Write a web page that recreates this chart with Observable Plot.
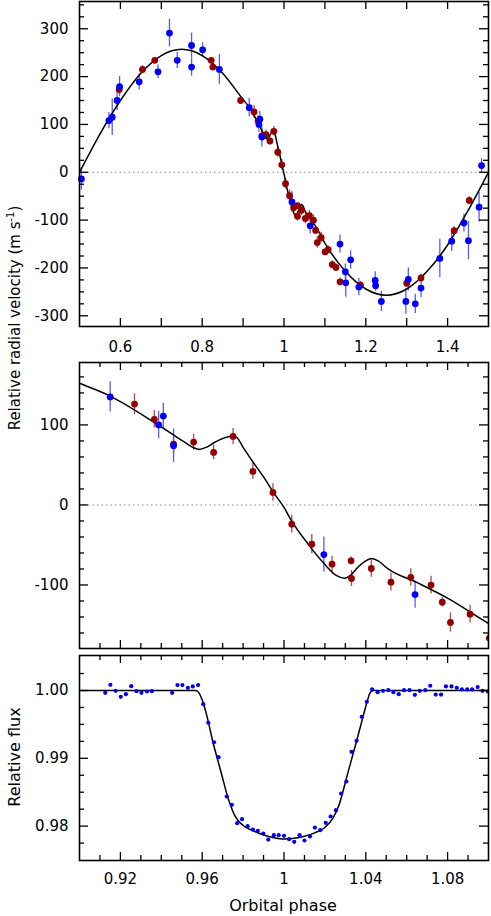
<!DOCTYPE html>
<html><head><meta charset="utf-8">
<script src="https://cdn.jsdelivr.net/npm/d3@7"></script>
<script src="https://cdn.jsdelivr.net/npm/@observablehq/plot@0.6"></script>
<style>
body{margin:0;background:#fff;}
#wrap{position:relative;width:491px;height:916px;font-family:"DejaVu Sans",sans-serif;color:#000;}
.panel{position:absolute;left:0;}
.panel svg{background:transparent !important;overflow:visible;}
.lab{position:absolute;white-space:nowrap;font-size:16px;line-height:1;}
.rot{transform:translate(-50%,-50%) rotate(-90deg);}
.hor{transform:translate(-50%,0);}
</style>
</head><body><div id="wrap"></div>
<script>
// ---- RV data, instrument 1 (blue) ----
const blueRVPhase = [0.5046,0.572,0.580,0.592,0.598,0.646,0.692,0.720,0.739,0.774,0.774,0.801,0.842,0.915,0.9387,0.941,0.946,1.0195,1.0641,1.137,1.150,1.151,1.163,1.183,1.223,1.224,1.238,1.298,1.304,1.321,1.335,1.381,1.410,1.440,1.451,1.477,1.483];
const blueRV      = [-14,108,115,150,179,189,210,291,234,265,220,256,215,135,100,111,74,-62,-112,-150,-208,-231,-183,-240,-226,-237,-270,-270,-224,-275,-242,-180,-144,-106,-143,-73,14];
const blueRVErr   = [23,17,38,21,21,17,14,29,17,26,19,15,31,19,17,16,21,22,17,19,16,30,19,18,18,12,21,27,24,20,20,40,21,19,40,31,14];
// ---- RV data, instrument 2 (dark red) ----
const redRVPhase = [0.597,0.654,0.684,0.822,0.826,0.894,0.9269,0.9366,0.946,0.9558,0.9656,0.9751,0.9848,0.9946,1.0038,1.0136,1.0235,1.0328,1.033,1.0427,1.0523,1.062,1.0719,1.0774,1.0814,1.091,1.1004,1.108,1.118,1.127,1.137,1.187,1.300,1.335,1.416,1.453];
const redRV      = [173,215,234,234,220,150,126,107,76,78.5,65.6,85.6,41.9,15.6,-24,-49,-74,-69.8,-91.9,-79.4,-96.5,-90.6,-100.2,-121.5,-146.9,-136.5,-166.5,-162,-193,-199,-229,-236,-232,-221,-122,-59];
const redRVErr   = [9,8,6,6,6,6,13,11,12,10,9,10,10,11,11,12,10,5,10,11,11,11,11,6,12,11,6,8,8,8,8,8,8,8,8,8];
// ---- RV model curve ----
const modelRVPhase = [0.50,0.55,0.60,0.65,0.70,0.75,0.80,0.85,0.90,0.915,0.936,0.945,0.951,0.9558,0.9585,0.962,0.966,0.970,0.9735,0.9765,0.980,0.985,0.990,0.995,1.000,1.0035,1.0115,1.0195,1.0255,1.0296,1.0325,1.0365,1.040,1.0427,1.046,1.0509,1.0656,1.0804,1.10,1.15,1.20,1.25,1.30,1.35,1.40,1.45,1.50];
const modelRV      = [0,80,150,207,244,257,244,207,152,136,104,89,79,71.5,69.4,72,78,83,85.5,85,72,53,35,15,-3,-19,-48,-73,-88,-91.5,-88,-77,-70,-67,-70,-80,-97.7,-117,-148,-207,-244,-257,-244,-207,-152,-80,0];
// ---- Photometry ----
const fluxPhase = [0.9126,0.9151,0.9177,0.9202,0.9227,0.9253,0.9279,0.9303,0.933,0.9354,0.9453,0.9479,0.9503,0.953,0.9554,0.958,0.9605,0.963,0.9658,0.968,0.972,0.9745,0.9771,0.9795,0.9822,0.9848,0.9872,0.9899,0.9923,0.995,0.9974,1.0,1.0025,1.005,1.0076,1.01,1.0127,1.0151,1.0177,1.0204,1.0228,1.0254,1.0279,1.0305,1.033,1.0355,1.038,1.0405,1.0431,1.0458,1.0484,1.051,1.0535,1.0561,1.0587,1.0614,1.064,1.0664,1.0691,1.0715,1.0742,1.0768,1.0792,1.0819,1.0845,1.087,1.0896,1.092,1.0947,1.0971,1.0997];
const flux      = [0.99966,1.00084,0.99995,0.99907,0.99946,1.00063,0.9999,0.99966,0.99985,0.9999,0.99966,1.0008,1.0008,1.0004,1.0006,1.0008,0.99798,0.99523,0.99237,0.99016,0.98437,0.98314,0.98043,0.98102,0.97999,0.9795,0.9793,0.97891,0.97802,0.97866,0.97866,0.97857,0.97807,0.97768,0.97866,0.97788,0.97847,0.97979,0.9794,0.98049,0.98142,0.98235,0.98481,0.98658,0.99096,0.99258,0.99612,0.99833,1.00015,0.99975,0.99995,1.00005,0.99975,0.99946,1.00005,1.00005,0.99936,0.99995,1.00005,1.0007,0.9994,0.9994,1.0006,1.0006,1.0004,1.00015,1.00015,1.00015,1.0005,0.99995,0.99985];
const modelFluxPhase = [0.9,0.957,0.9585,0.96,0.9625,0.965,0.969,0.973,0.976,0.98,0.985,0.99,0.995,1.0,1.005,1.01,1.015,1.02,1.024,1.027,1.031,1.035,1.038,1.0405,1.042,1.0435,1.1];
const modelFlux      = [1.0,1.0,0.9996,0.9986,0.9960,0.9927,0.9882,0.9838,0.9815,0.9801,0.9793,0.9787,0.9783,0.9781,0.9782,0.9785,0.9790,0.9798,0.9812,0.9832,0.9876,0.9920,0.9954,0.9982,0.9996,1.0,1.0];
// ---- Tick values ----
const topXLabels = [0.6,0.8,1,1.2,1.4];
const topXTicks  = [0.6,0.7,0.8,0.9,1.0,1.1,1.2,1.3,1.4];
const topYLabels = [-300,-200,-100,0,100,200,300];
const topYMinor  = [-275,-250,-225,-175,-150,-125,-75,-50,-25,25,50,75,125,150,175,225,250,275,325,350];
const zoomXLabels = [0.92,0.96,1,1.04,1.08];
const zoomXMinor  = [0.91,0.93,0.94,0.95,0.97,0.98,0.99,1.01,1.02,1.03,1.05,1.06,1.07,1.09];
const midYLabels = [-100,0,100];
const midYMinor  = [-160,-140,-120,-80,-60,-40,-20,20,40,60,80,120,140,160];
const fluxYLabels = [0.98,0.99,1.00];
const fluxYMinor  = [0.9775,0.9825,0.985,0.9875,0.9925,0.995,0.9975,1.0025];

const BLUE = "#0000f6", BLUE_ERR = "#5a5aff", RED = "#930000", RED_ERR = "#b24848";
const rv = (P, V, E, inst) => P.map((p, i) => ({phase: p, v: V[i], err: E[i], inst}));
const rvData = [...rv(redRVPhase, redRV, redRVErr, "red"), ...rv(blueRVPhase, blueRV, blueRVErr, "blue")];
const modelRVData = modelRVPhase.map((p, i) => ({phase: p, v: modelRV[i]}));
const fluxData = fluxPhase.map((p, i) => ({phase: p, f: flux[i]}));
const modelFluxData = modelFluxPhase.map((p, i) => ({phase: p, f: modelFlux[i]}));

const W = 491, ML = 79, MR = 3, PW = W - ML - MR;
const tk = {stroke: "black", strokeWidth: 1.3};
function tickMarks(xMajor, xMinor, yMajor, yMinor, PH) {
  const m = [];
  const addX = (arr, len) => { if (!arr.length) return;
    m.push(Plot.ruleX(arr, {x: d => d, insetBottom: PH - len, ...tk}));
    m.push(Plot.ruleX(arr, {x: d => d, insetTop: PH - len, ...tk})); };
  const addY = (arr, len) => { if (!arr.length) return;
    m.push(Plot.ruleY(arr, {y: d => d, insetRight: PW - len, ...tk}));
    m.push(Plot.ruleY(arr, {y: d => d, insetLeft: PW - len, ...tk})); };
  addX(xMajor, 8); addX(xMinor, 5); addY(yMajor, 9); addY(yMinor, 5);
  return m;
}
function rvMarks(clip) {
  return [
    Plot.ruleY([0], {stroke: "#8a8a8a", strokeWidth: 1.1, strokeDasharray: "1.5,3"}),
    Plot.ruleX(rvData, {x: "phase", y1: d => d.v - d.err, y2: d => d.v + d.err, stroke: d => d.inst === "blue" ? BLUE_ERR : RED_ERR, strokeWidth: 1.3, clip}),
    Plot.line(modelRVData, {x: "phase", y: "v", curve: "monotone-x", stroke: "black", strokeWidth: 1.5, clip}),
    Plot.dot(rvData, {x: "phase", y: "v", r: 3.4, fill: d => d.inst === "blue" ? BLUE : RED, stroke: "none", clip})
  ];
}
const baseStyle = {fontFamily: "DejaVu Sans", fontSize: "15px", background: "transparent", overflow: "visible", color: "black"};
const fmt = d => String(d);

// Panel 1: full orbit RV
const p1 = Plot.plot({
  width: W, height: 356, marginLeft: ML, marginRight: MR, marginTop: 1, marginBottom: 30,
  style: baseStyle,
  x: {domain: [0.5, 1.5], ticks: topXLabels, tickSize: 0, tickPadding: 15, tickFormat: fmt, label: null},
  y: {domain: [-322.4, 357], ticks: topYLabels, tickSize: 0, tickPadding: 11, tickFormat: fmt, label: null},
  marks: [...rvMarks(false), ...tickMarks(topXTicks, [], topYLabels, topYMinor, 325), Plot.frame({stroke: "black", strokeWidth: 1.6})]
});
// Panel 2: RM zoom
const p2 = Plot.plot({
  width: W, height: 296, marginLeft: ML, marginRight: MR, marginTop: 6, marginBottom: 4,
  style: baseStyle,
  x: {domain: [0.9, 1.1], ticks: [], tickSize: 0, label: null, axis: null},
  y: {domain: [-179.4, 178], ticks: midYLabels, tickSize: 0, tickPadding: 11, tickFormat: fmt, label: null},
  marks: [...rvMarks(true), ...tickMarks(zoomXLabels, zoomXMinor, midYLabels, midYMinor, 286), Plot.frame({stroke: "black", strokeWidth: 1.6})]
});
// Panel 3: transit
const p3 = Plot.plot({
  width: W, height: 264, marginLeft: ML, marginRight: MR, marginTop: 3, marginBottom: 56,
  style: baseStyle,
  x: {domain: [0.9, 1.1], ticks: zoomXLabels, tickSize: 0, tickPadding: 13, tickFormat: fmt, label: null},
  y: {domain: [0.97493, 1.00516], ticks: fluxYLabels, tickSize: 0, tickPadding: 11, tickFormat: d3.format(".2f"), label: null},
  marks: [
    Plot.line(modelFluxData, {x: "phase", y: "f", curve: "monotone-x", stroke: "black", strokeWidth: 1.5}),
    Plot.dot(fluxData, {x: "phase", y: "f", r: 2.1, fill: BLUE, stroke: "none", clip: true}),
    ...tickMarks(zoomXLabels, zoomXMinor, fluxYLabels, fluxYMinor, 205),
    Plot.frame({stroke: "black", strokeWidth: 1.6})
  ]
});

const wrap = document.getElementById("wrap");
function place(el, top) { const d = document.createElement("div"); d.className = "panel"; d.style.top = top + "px"; d.appendChild(el); wrap.appendChild(d); }
place(p1, 0); place(p2, 356); place(p3, 652);
function label(html, x, y, cls, size) { const d = document.createElement("div"); d.className = "lab " + cls; d.style.left = x + "px"; d.style.top = y + "px"; if (size) d.style.fontSize = size + "px"; d.innerHTML = html; wrap.appendChild(d); }
label('Relative radial velocity (m s<sup style="font-size:10px;vertical-align:6px;line-height:0">-1</sup>)', 15, 318, "rot", 15);
label("Relative flux", 15, 757, "rot", 16);
label("Orbital phase", 283, 898, "hor", 16);
</script></body></html>
